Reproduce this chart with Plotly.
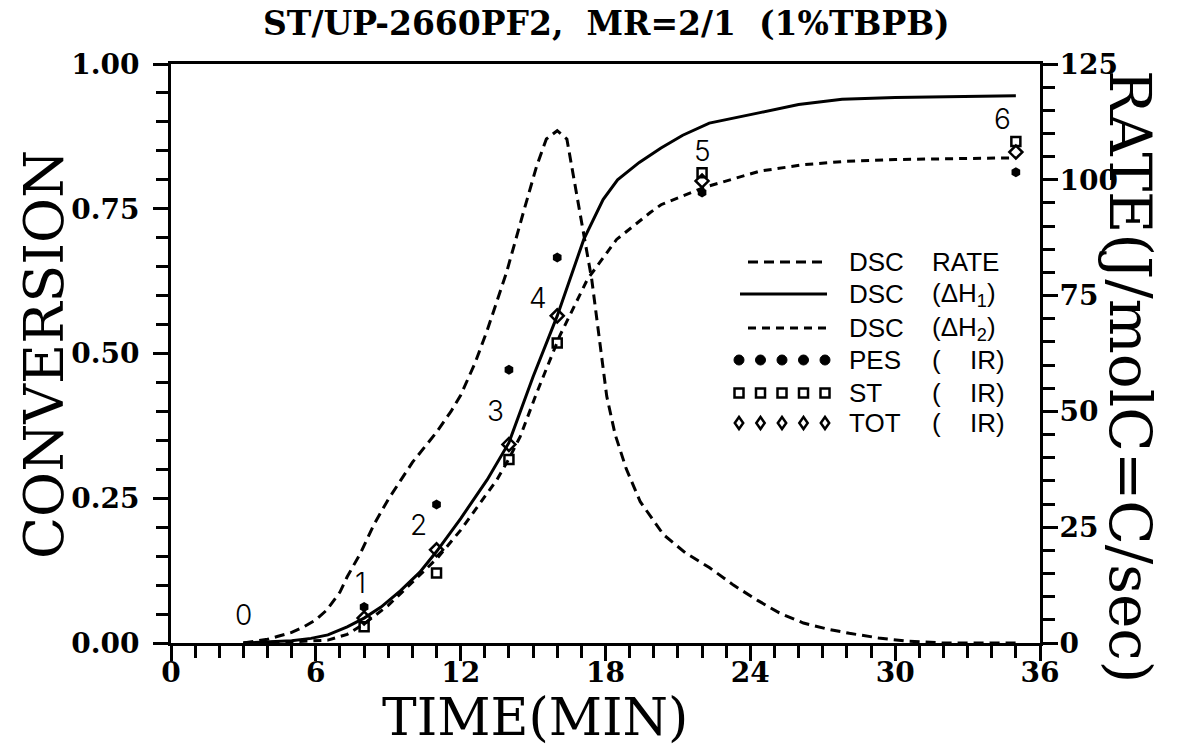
import plotly.graph_objects as go

# ---------------- data ----------------
rate_t = [3.0, 4.0, 4.4, 5.0, 5.5, 6.0, 6.45, 7.0, 7.3, 7.85, 8.4, 9.0, 9.5, 10.0, 11.0, 11.6,
          12.0, 12.6, 13.1, 13.9, 14.6, 15.15, 15.55, 16.0, 16.4, 16.7, 17.08, 17.43, 18.05,
          18.4, 18.86, 19.44, 20.4, 21.3, 22.3, 23.3, 24.3, 25.2, 26.2, 27.2, 28.1, 29.3,
          30.5, 32.0, 35.0]
rate_v = [0.0, 0.8, 1.4, 2.3, 3.5, 5.0, 7.1, 11.0, 14.3, 19.4, 25.5, 31.0, 35.0, 39.0, 45.5, 50.0,
          53.5, 60.5, 67.5, 80.0, 93.0, 103.0, 108.8, 110.6, 108.8, 100.0, 88.6, 78.5, 53.3,
          45.0, 37.6, 30.5, 23.4, 19.5, 16.3, 12.5, 9.2, 6.5, 4.3, 3.0, 2.1, 1.1,
          0.4, 0.0, 0.0]

h1_t = [3.0, 4.0, 5.0, 5.8, 6.5, 7.3, 8.0, 8.7, 9.5, 10.3, 11.0, 12.0, 13.1, 14.0, 14.5, 15.0,
        16.0, 16.7, 17.1, 17.9, 18.5, 19.4, 20.3, 21.2, 22.3, 24.4, 26.0, 27.8, 30.0, 35.0]
h1_v = [0.0, 0.002, 0.004, 0.008, 0.014, 0.028, 0.043, 0.062, 0.09, 0.122, 0.158, 0.215, 0.282,
        0.346, 0.403, 0.46, 0.565, 0.650, 0.697, 0.766, 0.80, 0.83, 0.855, 0.877, 0.898, 0.916,
        0.93, 0.939, 0.942, 0.945]

h2_t = [3.0, 5.0, 6.5, 7.3, 8.0, 9.0, 10.0, 11.04, 12.0, 13.5, 14.0, 14.47, 15.15, 16.1, 17.25,
        18.46, 19.84, 20.3, 22.1, 24.4, 26.2, 28.0, 30.0, 35.0]
h2_v = [0.0, 0.002, 0.005, 0.015, 0.033, 0.065, 0.105, 0.147, 0.195, 0.282, 0.318, 0.357, 0.432,
        0.53, 0.628, 0.697, 0.743, 0.757, 0.787, 0.815, 0.826, 0.832, 0.835, 0.838]

ir_t = [8, 11, 14, 16, 22, 35]
pes_ir = [0.062, 0.239, 0.472, 0.666, 0.778, 0.813]
st_ir = [0.028, 0.121, 0.317, 0.518, 0.812, 0.866]
tot_ir = [0.043, 0.161, 0.343, 0.565, 0.798, 0.848]

lab_text = ["0", "1", "2", "3", "4", "5", "6"]
lab_x = [3.0, 7.85, 10.25, 13.46, 15.2, 22.0, 34.45]
lab_y = [0.048, 0.103, 0.204, 0.40, 0.596, 0.849, 0.905]

x_ticks = [0, 6, 12, 18, 24, 30, 36]
y_ticks = [0.0, 0.25, 0.5, 0.75, 1.0]
y2_ticks = [0, 25, 50, 75, 100, 125]

legend_left = ["DSC", "DSC", "DSC", "PES", "ST", "TOT"]
legend_right = ["RATE", "(ΔH<sub>1</sub>)", "(ΔH<sub>2</sub>)"]

# ---------------- layout geometry ----------------
W, H = 1186, 748
L, R, T, B = 171, 1040, 64, 643


def px(x):
    return (x - L) / (R - L)


def py(y):
    return (B - y) / (B - T)


BLACK = "black"
SERIF = "DejaVu Serif"
SANS = "Liberation Sans"

fig = go.Figure()

fig.add_trace(go.Scatter(x=rate_t, y=rate_v, yaxis="y2", mode="lines",
                         line=dict(color=BLACK, width=3, dash="10px,6px"), showlegend=False))
fig.add_trace(go.Scatter(x=h1_t, y=h1_v, mode="lines",
                         line=dict(color=BLACK, width=3), showlegend=False))
fig.add_trace(go.Scatter(x=h2_t, y=h2_v, mode="lines",
                         line=dict(color=BLACK, width=3, dash="8px,6px"), showlegend=False))
fig.add_trace(go.Scatter(x=ir_t, y=pes_ir, mode="markers",
                         marker=dict(symbol="hexagon", size=10, color=BLACK), showlegend=False))
fig.add_trace(go.Scatter(x=ir_t, y=st_ir, mode="markers",
                         marker=dict(symbol="square-open", size=9, color=BLACK,
                                     line=dict(width=2.5, color=BLACK)), showlegend=False))
fig.add_trace(go.Scatter(x=ir_t, y=tot_ir, mode="markers",
                         marker=dict(symbol="diamond-open", size=10, color=BLACK,
                                     line=dict(width=2.5, color=BLACK)), showlegend=False))

annotations = []
for t, xv, yv in zip(lab_text, lab_x, lab_y):
    annotations.append(dict(x=xv, y=yv, xref="x", yref="y", text=t, showarrow=False,
                            xanchor="center", yanchor="middle",
                            font=dict(family="Inter", size=28, color=BLACK, weight=300)))


def ptext(x, y, text, size, family=SERIF, angle=0, xanchor="center"):
    annotations.append(dict(x=px(x), y=py(y), xref="paper", yref="paper", text=text,
                            textangle=angle, showarrow=False, xanchor=xanchor,
                            yanchor="middle", font=dict(family=family, size=size, color=BLACK)))


# title & axis titles
ptext(606, 23, "<b>ST/UP-2660PF2,  MR=2/1  (1%TBPB)</b>", 33)
ptext(44, 355, "CONVERSION", 55, angle=-90)
ptext(535, 717, "TIME(MIN)", 52)
ptext(1130, 376, "RATE(J/molC=C/sec)", 58, angle=90)

# legend
rows = [262, 294, 328, 360, 393, 423]
shapes = []
shapes.append(dict(type="line", xref="paper", yref="paper", x0=px(748), x1=px(827),
                   y0=py(rows[0]), y1=py(rows[0]), line=dict(color=BLACK, width=3, dash="10px,6px")))
shapes.append(dict(type="line", xref="paper", yref="paper", x0=px(740), x1=px(827),
                   y0=py(rows[1]), y1=py(rows[1]), line=dict(color=BLACK, width=3)))
shapes.append(dict(type="line", xref="paper", yref="paper", x0=px(748), x1=px(827),
                   y0=py(rows[2]), y1=py(rows[2]), line=dict(color=BLACK, width=3, dash="8px,6px")))
for i in range(5):
    cx = 739 + i * 21.5
    r = 5
    shapes.append(dict(type="circle", xref="paper", yref="paper",
                       x0=px(cx - r), x1=px(cx + r), y0=py(rows[3] + r), y1=py(rows[3] - r),
                       fillcolor=BLACK, line=dict(color=BLACK, width=1)))
    s = 4.5
    shapes.append(dict(type="rect", xref="paper", yref="paper",
                       x0=px(cx - s), x1=px(cx + s), y0=py(rows[4] + s), y1=py(rows[4] - s),
                       line=dict(color=BLACK, width=2.5)))
    d = 6
    yc = rows[5]
    path = (f"M {px(cx)} {py(yc - d)} L {px(cx + d * 0.7)} {py(yc)} "
            f"L {px(cx)} {py(yc + d)} L {px(cx - d * 0.7)} {py(yc)} Z")
    shapes.append(dict(type="path", xref="paper", yref="paper", path=path,
                       line=dict(color=BLACK, width=2.5)))

for i, t in enumerate(legend_left):
    ptext(847, rows[i], t, 26, family=SANS, xanchor="left")
for i, t in enumerate(legend_right):
    ptext(930, rows[i], t, 26, family=SANS, xanchor="left")
for i in range(3, 6):
    ptext(930, rows[i], "(", 26, family=SANS, xanchor="left")
    ptext(1007, rows[i], "IR)", 26, family=SANS, xanchor="right")

tickfont = dict(family=SERIF, size=28, color=BLACK, weight="bold")
common = dict(showgrid=False, zeroline=False, showline=True, linecolor=BLACK, linewidth=3,
              ticks="outside", tickcolor=BLACK, tickwidth=3, ticklen=15, tickfont=tickfont)

fig.update_layout(
    width=W, height=H,
    margin=dict(l=L, r=W - R, t=T, b=H - B),
    paper_bgcolor="white", plot_bgcolor="white",
    showlegend=False,
    xaxis=dict(range=[0, 36], tickvals=x_ticks, ticktext=[str(v) for v in x_ticks],
               mirror=True, ticklabelstandoff=-13,
               minor=dict(dtick=1, ticks="outside", ticklen=12, tickwidth=3, tickcolor=BLACK),
               **common),
    yaxis=dict(range=[0, 1], tickvals=y_ticks, ticktext=[f"{v:.2f}" for v in y_ticks],
               ticklabelstandoff=8,
               minor=dict(dtick=0.05, ticks="outside", ticklen=12, tickwidth=3, tickcolor=BLACK),
               **common),
    yaxis2=dict(range=[0, 125], tickvals=y2_ticks, ticktext=[str(v) for v in y2_ticks],
                overlaying="y", side="right", ticklabelstandoff=-4,
                minor=dict(dtick=5, ticks="outside", ticklen=12, tickwidth=3, tickcolor=BLACK),
                **common),
    annotations=annotations,
    shapes=shapes,
)

fig.write_html("out.html")
